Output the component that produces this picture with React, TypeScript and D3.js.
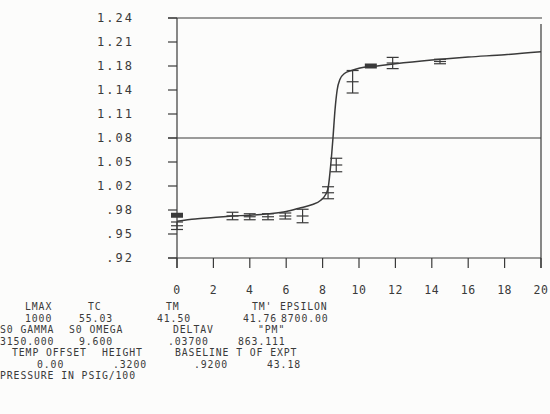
import React from 'react';
import * as d3 from 'd3';

// measured points with error bars
const ptX = [0, 0, 3.05, 4.0, 5.0, 5.95, 6.9, 8.3, 8.75, 9.65, 10.65, 11.85, 14.45];
const ptY = [0.977, 0.963, 0.976, 0.975, 0.975, 0.976, 0.976, 1.007, 1.044, 1.155, 1.176, 1.180, 1.182];
const ptErr = [0.002, 0.005, 0.005, 0.004, 0.004, 0.004, 0.009, 0.008, 0.009, 0.015, 0.002, 0.0075, 0.003];

// fitted curve
const fitX = [0, 1, 2, 3, 4, 5, 6, 6.8, 7.4, 7.9, 8.15, 8.3, 8.45, 8.57, 8.68, 8.8, 8.95, 9.2, 9.6, 10, 11, 12, 14, 16, 18, 20];
const fitY = [0.969, 0.972, 0.974, 0.976, 0.977, 0.979, 0.982, 0.987, 0.991, 0.997, 1.004, 1.013, 1.045, 1.08, 1.117, 1.144, 1.158, 1.166, 1.170, 1.173, 1.176, 1.179, 1.184, 1.188, 1.191, 1.195];

const xTicks = [0, 2, 4, 6, 8, 10, 12, 14, 16, 18, 20];
const yTicks = [0.92, 0.952, 0.984, 1.016, 1.048, 1.08, 1.112, 1.144, 1.176, 1.208, 1.24];
const refLine = 1.08;

// parameter block under the chart: [text, x] per line
const infoLines: [string, number][][] = [
  [['LMAX', 25], ['TC', 88], ['TM', 166], ["TM'", 252], ['EPSILON', 280]],
  [['1000', 25], ['55.03', 79], ['41.50', 157], ['41.76', 243], ['8700.00', 281]],
  [['S0 GAMMA', 0], ['S0 OMEGA', 69], ['DELTAV', 173], ['"PM"', 258]],
  [['3150.000', 0], ['9.600', 79], ['.03700', 168], ['863.111', 238]],
  [['TEMP OFFSET', 12], ['HEIGHT', 102], ['BASELINE T OF EXPT', 175]],
  [['0.00', 37], ['.3200', 113], ['.9200', 194], ['43.18', 267]],
  [['PRESSURE IN PSIG/100', 0]],
];
const infoBase = [310, 321.5, 333, 344.5, 356, 367.5, 379];

const W = 550, H = 414;
const ink = '#3a3a3a';
const font = '"DejaVu Sans Mono", monospace';

function fmtY(v: number) {
  const s = v.toFixed(2);
  return s.startsWith('0') ? s.slice(1) : s;
}

export default function App() {
  const x = d3.scaleLinear().domain([0, 20]).range([177, 541]);
  const y = d3.scaleLinear().domain([0.92, 1.24]).range([258, 18]);

  const line = d3.line<number>()
    .x((d, i) => x(fitX[i]))
    .y(d => y(d))
    .curve(d3.curveMonotoneX);

  const cap = 6;

  return (
    <svg width={W} height={H} style={{ position: 'absolute', left: 0, top: 0, background: '#fcfcfb' }}>
      <g stroke={ink} strokeWidth={1.2} fill="none">
        {/* frame */}
        <line x1={168} x2={542} y1={y(1.24)} y2={y(1.24)} />
        <line x1={x(0)} x2={x(0)} y1={y(1.24)} y2={268} />
        <line x1={168} x2={x(20)} y1={y(0.92)} y2={y(0.92)} />
        <line x1={x(20)} x2={x(20)} y1={24} y2={268} />
        <line x1={168} x2={x(20)} y1={y(refLine)} y2={y(refLine)} />
        {yTicks.map((t, i) => (
          <line key={i} x1={168} x2={x(0)} y1={y(t)} y2={y(t)} />
        ))}
        {xTicks.map((t, i) => (
          <line key={i} x1={x(t)} x2={x(t)} y1={y(0.92)} y2={268} />
        ))}
        {/* fitted curve */}
        <path d={line(fitY) || ''} strokeWidth={1.5} />
        {/* error bars */}
        {ptX.map((px, i) => {
          const cx = x(px);
          const y0 = y(ptY[i] + ptErr[i]);
          const y1 = y(ptY[i] - ptErr[i]);
          const cy = y(ptY[i]);
          if (y1 - y0 < 4) {
            return <rect key={i} x={cx - cap} y={cy - 2.5} width={cap * 2} height={5} fill={ink} stroke="none" />;
          }
          return (
            <g key={i}>
              <line x1={cx} x2={cx} y1={y0} y2={y1} />
              <line x1={cx - cap} x2={cx + cap} y1={y0} y2={y0} />
              <line x1={cx - cap} x2={cx + cap} y1={y1} y2={y1} />
              <line x1={cx - cap} x2={cx + cap} y1={cy} y2={cy} />
            </g>
          );
        })}
      </g>
      <g fill={ink} fontFamily={font}>
        {yTicks.map((t, i) => (
          <text key={i} x={134} y={y(t) + 4} fontSize={12} letterSpacing={2} textAnchor="end">{fmtY(t)}</text>
        ))}
        {xTicks.map((t, i) => (
          <text key={i} x={x(t)} y={294} fontSize={11.5} letterSpacing={0.5} textAnchor="middle">{t}</text>
        ))}
        {infoLines.map((row, r) => row.map(([s, tx], k) => (
          <text key={`${r}-${k}`} x={tx} y={infoBase[r]} fontSize={9.8} letterSpacing={0.9} xmlSpace="preserve">{s}</text>
        )))}
      </g>
    </svg>
  );
}
